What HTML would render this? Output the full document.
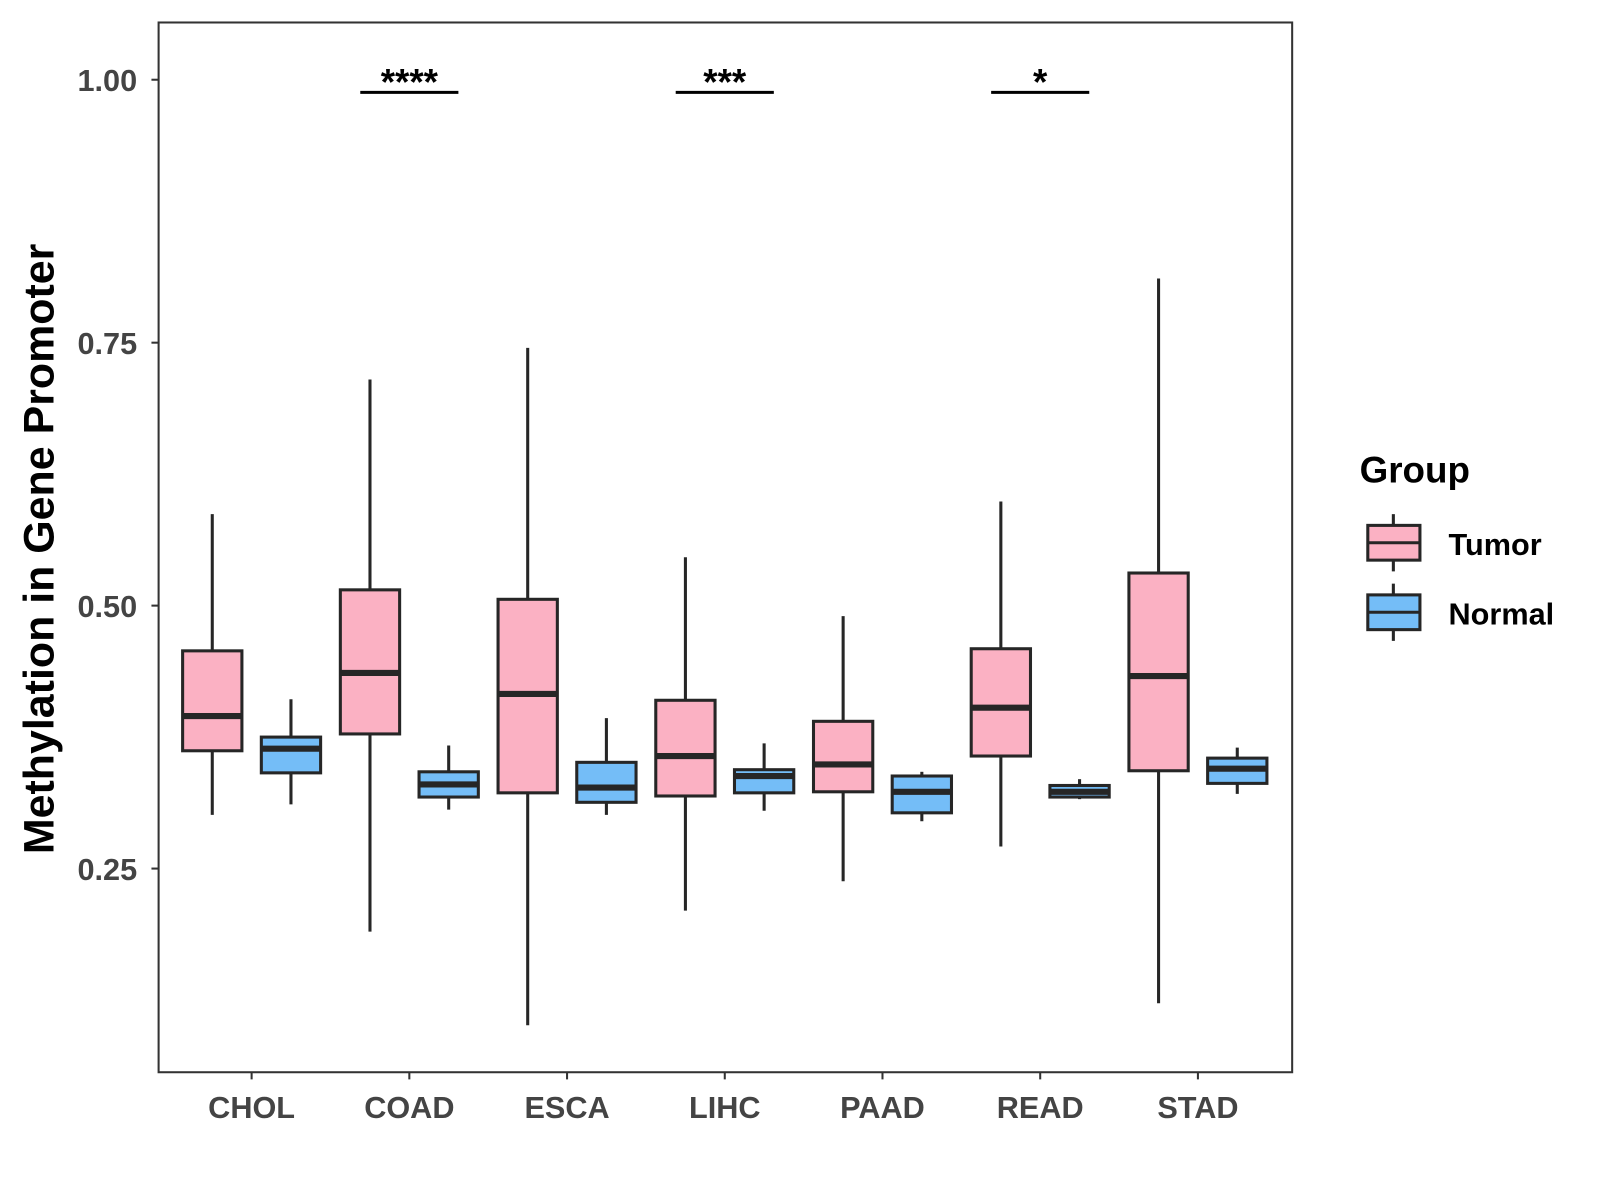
<!DOCTYPE html>
<html><head><meta charset="utf-8"><style>
html,body{margin:0;padding:0;background:#fff;width:1600px;height:1200px;overflow:hidden}
svg{display:block}
text{font-family:"Liberation Sans",Arial,sans-serif;font-weight:bold}
</style></head><body>
<svg id="chart" width="1600" height="1200" viewBox="0 0 1565 1174" xmlns="http://www.w3.org/2000/svg">
<rect x="155" y="22" width="1109" height="1027" fill="#fff" stroke="#333" stroke-width="2"/>
<g id="marks"></g>
<text transform="translate(52,537) rotate(-90)" text-anchor="middle" font-size="42" fill="#000">Methylation in Gene Promoter</text>
<g>
<text x="1330" y="472" font-size="36" fill="#000">Group</text>
<g>
<line x1="1363" y1="503" x2="1363" y2="559" stroke="#262626" stroke-width="3"/>
<rect x="1338" y="514" width="51" height="34" fill="#FBB1C3" stroke="#262626" stroke-width="3"/>
<line x1="1338" y1="531" x2="1389" y2="531" stroke="#262626" stroke-width="3"/>
<text x="1417" y="543" font-size="30" fill="#000">Tumor</text></g>
<g>
<line x1="1363" y1="571" x2="1363" y2="627" stroke="#262626" stroke-width="3"/>
<rect x="1338" y="582" width="51" height="34" fill="#74BDF7" stroke="#262626" stroke-width="3"/>
<line x1="1338" y1="599" x2="1389" y2="599" stroke="#262626" stroke-width="3"/>
<text x="1417" y="611" font-size="30" fill="#000">Normal</text></g>
</g>
</svg>
<script>
const categories=["CHOL","COAD","ESCA","LIHC","PAAD","READ","STAD"];
const tumorStats=[[0.301,0.362,0.395,0.457,0.587],[0.190,0.378,0.436,0.515,0.715],[0.101,0.322,0.416,0.506,0.745],[0.210,0.319,0.357,0.410,0.546],[0.238,0.323,0.349,0.390,0.490],[0.271,0.357,0.403,0.459,0.599],[0.122,0.343,0.433,0.531,0.811]];
const normalStats=[[0.311,0.341,0.364,0.375,0.411],[0.306,0.318,0.330,0.342,0.367],[0.301,0.313,0.327,0.351,0.393],[0.305,0.322,0.338,0.344,0.369],[0.295,0.303,0.323,0.338,0.342],[0.316,0.318,0.323,0.329,0.335],[0.321,0.331,0.345,0.355,0.365]];
const yTicks=[0.25,0.5,0.75,1.0];
const yTickLabels=["0.25","0.50","0.75","1.00"];
const sigCategories=["COAD","LIHC","READ"];
const sigLabels=["****","***","*"];
const sigLevel=0.988;

const NS="http://www.w3.org/2000/svg";
const g=document.getElementById('marks');
function yScale(v){return 78+(1-v)*1029;}
function xScale(i){return 246+i*154.3;}
function mk(tag,attrs,parent){const e=document.createElementNS(NS,tag);for(const k in attrs)e.setAttribute(k,attrs[k]);(parent||g).appendChild(e);return e;}

yTicks.forEach((t,i)=>{
  const y=yScale(t);
  const tk=mk('line',{x1:148,x2:155,y1:y,y2:y,stroke:'#333','stroke-width':2});
  
  
  const tx=mk('text',{x:134,y:y+11,'text-anchor':'end','font-size':30,fill:'#444'});
  tx.textContent=yTickLabels[i];
  
  
});
categories.forEach((c,i)=>{
  const x=xScale(i);
  const tk=mk('line',{x1:x,x2:x,y1:1049,y2:1056,stroke:'#333','stroke-width':2});
  
  
  const tx=mk('text',{x:x,y:1094,'text-anchor':'middle','font-size':30,fill:'#444'});
  tx.textContent=c;
  
  
});
function box(cx,s,fill,name){
  const grp=mk('g',{});
  
  
  const hw=29;
  mk('line',{x1:cx,x2:cx,y1:yScale(s[4]),y2:yScale(s[0]),stroke:'#262626','stroke-width':3},grp);
  mk('rect',{x:cx-hw,y:yScale(s[3]),width:2*hw,height:yScale(s[1])-yScale(s[3]),fill:fill,stroke:'#262626','stroke-width':3},grp);
  mk('line',{x1:cx-hw,x2:cx+hw,y1:yScale(s[2]),y2:yScale(s[2]),stroke:'#262626','stroke-width':6},grp);
}
categories.forEach((c,i)=>{
  box(xScale(i)-38.5,tumorStats[i],'#FBB1C3','box-tumor-'+c.toLowerCase());
  box(xScale(i)+38.5,normalStats[i],'#74BDF7','box-normal-'+c.toLowerCase());
});
sigCategories.forEach((c,j)=>{
  const i=categories.indexOf(c);
  const x=xScale(i), y=yScale(sigLevel);
  const ln=mk('line',{x1:x-48,x2:x+48,y1:y,y2:y,stroke:'#000','stroke-width':3});
  
  
  const tx=mk('text',{x:x,y:y+2,'text-anchor':'middle','font-size':36,fill:'#000'});
  tx.textContent=sigLabels[j];
  
  
});
</script>
</body></html>
